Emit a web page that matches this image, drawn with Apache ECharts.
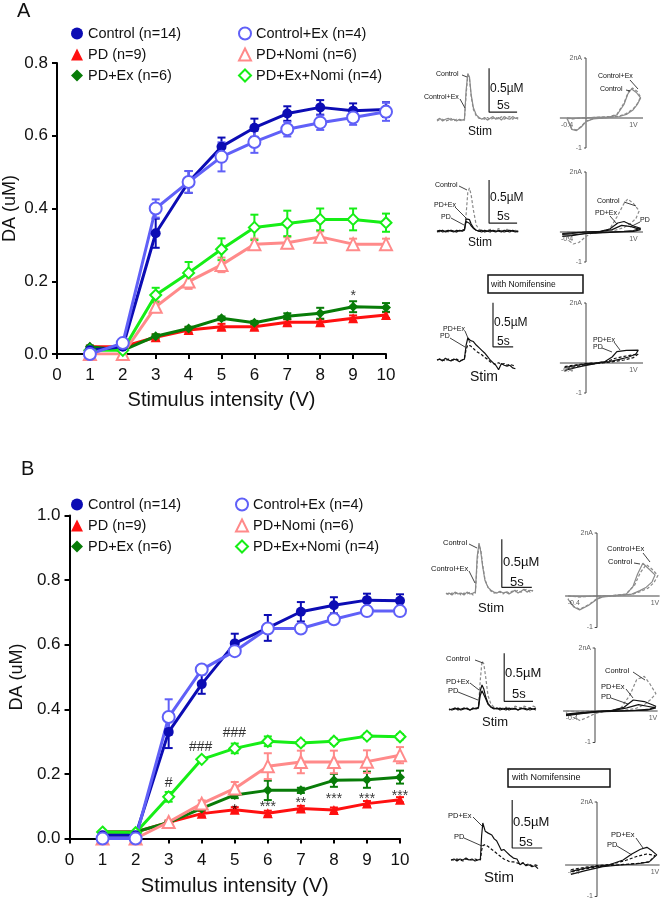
<!DOCTYPE html>
<html><head><meta charset="utf-8">
<script src="https://cdn.jsdelivr.net/npm/echarts@6/dist/echarts.min.js"></script>
<style>html,body{margin:0;padding:0;background:#fff}#c{width:660px;height:900px}</style>
</head><body><div id="c"></div>
<script>
// ---------- main data ----------
const volts = [1,2,3,4,5,6,7,8,9,10];
// Panel A
const aControl      = [0.01,0.02,0.332,0.473,0.570,0.622,0.661,0.678,0.669,0.672];
const aControlErr   = [0.005,0.005,0.04,0.03,0.025,0.025,0.02,0.02,0.02,0.02];
const aControlEx    = [0.0,0.03,0.40,0.473,0.542,0.583,0.618,0.636,0.650,0.666];
const aControlExErr = [0.005,0.005,0.025,0.03,0.04,0.03,0.02,0.02,0.02,0.025];
const aPD           = [0.02,0.02,0.046,0.066,0.075,0.075,0.087,0.087,0.098,0.107];
const aPDErr        = [0.003,0.003,0.008,0.008,0.008,0.008,0.008,0.008,0.008,0.008];
const aPDEx         = [0.02,0.01,0.049,0.07,0.098,0.086,0.104,0.112,0.13,0.128];
const aPDExErr      = [0.003,0.003,0.005,0.005,0.005,0.005,0.008,0.015,0.015,0.012];
const aPDNomi       = [0.0,0.0,0.13,0.199,0.245,0.302,0.306,0.322,0.302,0.302];
const aPDNomiErr    = [0.003,0.003,0.015,0.02,0.02,0.015,0.015,0.015,0.015,0.015];
const aPDExNomi     = [0.01,0.01,0.162,0.223,0.288,0.348,0.359,0.370,0.370,0.361];
const aPDExNomiErr  = [0.003,0.003,0.02,0.03,0.03,0.035,0.035,0.03,0.03,0.025];
const annotAx = [9], annotAy = [0.158], annotAt = ['*'];
// Panel B
const bControl      = [0.01,0.01,0.33,0.478,0.604,0.652,0.702,0.722,0.738,0.736];
const bControlErr   = [0.005,0.005,0.05,0.03,0.03,0.04,0.03,0.025,0.02,0.02];
const bControlEx    = [0.0,0.0,0.376,0.523,0.58,0.65,0.65,0.679,0.704,0.704];
const bControlExErr = [0.003,0.003,0.055,0.01,0.01,0.01,0.01,0.01,0.01,0.01];
const bPD           = [0.02,0.02,0.05,0.077,0.089,0.078,0.093,0.088,0.108,0.12];
const bPDErr        = [0.003,0.003,0.005,0.008,0.008,0.008,0.008,0.008,0.008,0.008];
const bPDEx         = [0.02,0.02,0.05,0.093,0.135,0.149,0.149,0.18,0.182,0.19];
const bPDExErr      = [0.003,0.003,0.005,0.005,0.01,0.03,0.008,0.02,0.025,0.02];
const bPDNomi       = [0.0,0.0,0.051,0.108,0.155,0.224,0.237,0.237,0.238,0.258];
const bPDNomiErr    = [0.003,0.003,0.005,0.01,0.02,0.04,0.035,0.035,0.035,0.025];
const bPDExNomi     = [0.02,0.018,0.129,0.245,0.279,0.301,0.296,0.301,0.317,0.315];
const bPDExNomiErr  = [0.003,0.003,0.015,0.005,0.015,0.015,0.008,0.008,0.008,0.008];
const annotBx = [3,3.97,4.99,5,6,7,8,9,10];
const annotBy = [0.172,0.283,0.325,0.088,0.097,0.108,0.122,0.122,0.132];
const annotBt = ['#','###','###','*','***','**','***','***','***'];

// ---------- inset data (time s, DA uM) ----------
const tRow = [0,0.5,1,1.5,2,2.5,3,3.5,4,4.5,4.9,5.2,5.5,5.8,6.1,6.5,7,7.5,8,8.5,9,9.5,10,10.5,11,11.5,12,12.5,13,13.5,14,14.5];
const a1Control   = [0.01,0.03,0.0,0.02,0.03,0.01,0.02,0.0,0.02,0.01,0.02,0.35,0.54,0.50,0.30,0.15,0.07,0.04,0.02,0.04,0.01,0.03,0.05,0.02,0.04,0.01,0.05,0.03,0.02,0.05,0.03,0.04];
const a1ControlEx = [0.0,0.02,0.02,0.0,0.01,0.03,0.0,0.02,0.01,0.0,0.01,0.30,0.52,0.48,0.28,0.13,0.06,0.03,0.03,0.02,0.04,0.02,0.03,0.04,0.02,0.05,0.02,0.04,0.05,0.02,0.04,0.02];
const a2Control   = [0.01,0.0,0.02,0.01,0.0,0.02,0.01,0.0,0.02,0.01,0.02,0.2,0.45,0.5,0.42,0.25,0.08,0.03,0.02,0.01,0.02,0.03,0.01,0.02,0.04,0.02,0.01,0.03,0.02,0.01,0.02,0.01];
const a2PD        = [0.01,0.02,0.0,0.01,0.02,0.01,0.0,0.02,0.01,0.02,0.03,0.12,0.13,0.10,0.07,0.04,0.02,0.01,0.02,0.0,0.01,0.02,0.01,0.0,0.02,0.01,0.0,0.01,0.02,0.01,0.0,0.01];
const a2PDEx      = [0.0,0.01,0.02,0.0,0.01,0.02,0.01,0.0,0.02,0.01,0.02,0.15,0.17,0.14,0.09,0.05,0.02,0.01,0.0,0.02,0.01,0.0,0.02,0.01,0.01,0.0,0.02,0.01,0.0,0.02,0.01,0.0];
const tA3 = [0,0.5,1,1.5,2,2.5,3,3.5,4,4.5,4.9,5.2,5.5,6,6.5,7,7.5,8,8.5,9,9.5,10,10.5,11,11.5,12,12.5,13,13.5,14];
const a3PDEx = [0.0,0.01,-0.01,0.02,0.0,-0.01,0.01,0.0,-0.02,0.0,0.01,0.17,0.25,0.22,0.21,0.17,0.14,0.11,0.08,0.04,0.0,-0.03,-0.06,-0.11,-0.04,-0.06,-0.07,-0.06,-0.09,-0.1];
const a3PD   = [0.0,0.01,0.0,-0.01,0.01,0.0,0.0,0.01,-0.01,0.0,0.02,0.12,0.17,0.16,0.13,0.1,0.08,0.06,0.03,0.01,-0.02,-0.04,-0.05,-0.03,-0.05,-0.04,-0.06,-0.05,-0.06,-0.07];
const b1Control   = [0.01,0.02,0.0,0.03,0.01,0.02,0.0,0.03,0.01,0.02,0.03,0.4,0.54,0.45,0.3,0.15,0.08,0.05,0.03,0.02,0.04,0.02,0.03,0.01,0.03,0.05,0.02,0.04,0.06,0.03,0.05,0.04];
const b1ControlEx = [0.02,0.0,0.02,0.01,0.03,0.0,0.02,0.01,0.03,0.0,0.02,0.35,0.52,0.47,0.32,0.16,0.08,0.04,0.02,0.03,0.03,0.01,0.04,0.02,0.04,0.03,0.05,0.03,0.05,0.06,0.03,0.05];
const b2Control   = [0.01,0.0,0.02,0.01,0.0,0.02,0.01,0.0,0.02,0.01,0.02,0.3,0.51,0.48,0.35,0.15,0.06,0.03,0.02,0.01,0.02,0.03,0.01,0.02,0.04,0.03,0.02,0.04,0.03,0.02,0.04,0.03];
const b2PDEx      = [0.0,0.01,0.02,0.0,0.01,0.02,0.01,0.0,0.02,0.01,0.03,0.2,0.26,0.22,0.14,0.07,0.03,0.02,0.01,0.02,0.01,0.0,0.02,0.01,0.01,0.0,0.02,0.01,0.0,0.02,0.01,0.0];
const b2PD        = [0.01,0.0,0.01,0.02,0.0,0.01,0.02,0.0,0.01,0.02,0.02,0.15,0.2,0.18,0.12,0.06,0.03,0.01,0.02,0.0,0.01,0.02,0.0,0.01,0.02,0.0,0.01,0.02,0.01,0.0,0.01,0.02];
const tB3 = [0,0.5,1,1.5,2,2.5,3,3.5,4,4.5,4.9,5.1,5.3,5.7,6.2,6.8,7.2,7.6,8,8.4,8.8,9.3,9.8,10.4,11,11.5,12,12.5,13,13.5,14,14.5];
const b3PDEx = [0.0,0.01,-0.01,0.01,0.0,0.02,0.0,0.01,-0.01,0.0,0.01,0.25,0.385,0.3,0.28,0.26,0.22,0.2,0.15,0.1,0.11,0.08,0.05,0.02,0.01,-0.05,-0.03,-0.06,-0.05,-0.07,-0.06,-0.09];
const b3PD   = [0.0,0.0,0.01,0.0,-0.01,0.01,0.0,0.0,0.01,0.0,0.0,0.1,0.15,0.16,0.14,0.11,0.09,0.07,0.05,0.03,0.01,0.0,-0.02,-0.02,-0.03,-0.04,-0.03,-0.05,-0.04,-0.06,-0.05,-0.06];
// scale bars [s, uM]
const sbA1 = [[9.3,0.6],[9.3,0.1],[14.3,0.1]];
const sbA2 = [[9.3,0.59],[9.3,0.1],[14.3,0.1]];
const sbA3 = [[10,0.65],[10,0.15],[13.6,0.15]];
const sbB1 = [[9.3,0.58],[9.3,0.08],[14.3,0.08]];
const sbB2 = [[9.2,0.59],[9.2,0.09],[14,0.09]];
const sbB3 = [[10.2,0.625],[10.2,0.125],[15.2,0.125]];
// cyclic voltammograms [V, nA]
const cvA1Control   = [[-0.4,0],[-0.3,-0.02],[-0.1,0],[0.2,0.02],[0.5,0.04],[0.65,0.1],[0.8,0.45],[0.88,0.8],[0.96,0.97],[1.06,0.85],[1.15,0.67],[1.08,0.45],[0.99,0.27],[0.85,0.12],[0.7,0.05],[0.4,0.0],[0.15,-0.03],[0.0,-0.12],[-0.1,-0.3],[-0.2,-0.42],[-0.3,-0.38],[-0.4,0]];
const cvA1ControlEx = [[-0.4,0],[-0.3,-0.03],[-0.1,0],[0.2,0.02],[0.5,0.05],[0.65,0.12],[0.8,0.5],[0.9,0.9],[0.98,1.0],[1.08,0.88],[1.15,0.7],[1.08,0.48],[0.99,0.3],[0.85,0.15],[0.7,0.06],[0.4,0.01],[0.15,-0.02],[0.0,-0.1],[-0.1,-0.28],[-0.2,-0.4],[-0.3,-0.36],[-0.4,-0.02]];
const cvA2Control   = [[-0.4,0],[-0.3,-0.02],[0,0],[0.3,0.02],[0.5,0.1],[0.65,0.5],[0.8,0.95],[0.88,1.1],[1.0,0.95],[1.12,0.7],[1.05,0.45],[0.95,0.3],[0.8,0.15],[0.6,0.05],[0.3,0],[0.1,-0.05],[0,-0.15],[-0.15,-0.35],[-0.27,-0.4],[-0.35,-0.3],[-0.4,-0.05]];
const cvA2PDEx      = [[-0.5,-0.05],[-0.3,-0.03],[0,0],[0.3,0.02],[0.5,0.1],[0.67,0.3],[0.8,0.35],[1.0,0.2],[1.15,0.12],[1.0,0.05],[0.8,0.02],[0.5,0.0],[0.2,-0.03],[0,-0.05],[-0.3,-0.1],[-0.5,-0.1]];
const cvA2PD        = [[-0.5,-0.08],[-0.3,-0.05],[0,0],[0.3,0.01],[0.55,0.08],[0.75,0.22],[0.95,0.18],[1.15,0.08],[1.0,0.02],[0.7,0.0],[0.4,-0.02],[0,-0.05],[-0.3,-0.12],[-0.5,-0.15]];
const cvA3PDEx      = [[-0.45,-0.15],[-0.2,-0.08],[0,-0.03],[0.2,0.0],[0.4,0.05],[0.55,0.2],[0.65,0.38],[0.85,0.42],[1.1,0.43],[1.05,0.3],[0.9,0.2],[0.7,0.12],[0.5,0.05],[0.2,-0.02],[0,-0.08],[-0.2,-0.15],[-0.45,-0.25]];
const cvA3PD        = [[-0.45,-0.12],[-0.2,-0.06],[0,-0.02],[0.2,0.0],[0.45,0.05],[0.6,0.15],[0.8,0.22],[1.1,0.3],[1.0,0.18],[0.8,0.1],[0.5,0.03],[0.2,-0.02],[0,-0.06],[-0.2,-0.12],[-0.45,-0.2]];
const cvB1Control   = [[-0.5,0],[-0.3,-0.02],[0,0],[0.3,0.02],[0.5,0.05],[0.62,0.3],[0.7,0.7],[0.79,1.04],[0.9,0.85],[1.0,0.67],[0.95,0.45],[0.85,0.28],[0.74,0.17],[0.6,0.06],[0.3,0.0],[0.1,-0.03],[0,-0.1],[-0.15,-0.3],[-0.3,-0.44],[-0.4,-0.35],[-0.5,-0.1]];
const cvB1ControlEx = [[-0.5,0],[-0.3,-0.03],[0,0],[0.3,0.02],[0.5,0.06],[0.65,0.35],[0.75,0.75],[0.85,1.0],[0.95,0.85],[1.05,0.65],[0.98,0.42],[0.88,0.25],[0.75,0.14],[0.6,0.05],[0.3,0.0],[0.1,-0.02],[0,-0.08],[-0.15,-0.28],[-0.3,-0.42],[-0.4,-0.33],[-0.5,-0.08]];
const cvB2Control   = [[-0.5,0],[-0.3,-0.02],[0,0],[0.3,0.02],[0.45,0.1],[0.6,0.5],[0.72,1.0],[0.85,1.1],[0.95,0.85],[1.05,0.55],[0.95,0.35],[0.85,0.2],[0.7,0.08],[0.5,0.02],[0.2,0.0],[0,-0.08],[-0.15,-0.22],[-0.26,-0.3],[-0.38,-0.2],[-0.5,-0.05]];
const cvB2PDEx      = [[-0.5,-0.12],[-0.3,-0.08],[0,-0.02],[0.3,0.02],[0.5,0.12],[0.66,0.35],[0.85,0.3],[1.05,0.15],[0.95,0.06],[0.7,0.02],[0.4,0.0],[0.1,-0.02],[-0.2,-0.08],[-0.5,-0.15]];
const cvB2PD        = [[-0.5,-0.1],[-0.3,-0.06],[0,-0.02],[0.3,0.01],[0.55,0.1],[0.75,0.2],[0.9,0.15],[1.05,0.1],[0.9,0.03],[0.6,0.01],[0.3,-0.01],[0,-0.03],[-0.25,-0.08],[-0.5,-0.12]];
const cvB3PDEx      = [[-0.45,-0.2],[-0.2,-0.1],[0,-0.04],[0.2,0.0],[0.45,0.16],[0.6,0.35],[0.75,0.5],[0.86,0.56],[0.95,0.45],[1.03,0.32],[0.9,0.1],[0.7,0.04],[0.4,0.0],[0.1,-0.05],[-0.2,-0.18],[-0.45,-0.3]];
const cvB3PD        = [[-0.45,-0.15],[-0.2,-0.07],[0,-0.02],[0.25,0.02],[0.5,0.15],[0.7,0.28],[0.86,0.35],[1.0,0.3],[1.03,0.25],[0.9,0.1],[0.7,0.05],[0.4,0.01],[0.1,-0.03],[-0.2,-0.12],[-0.45,-0.22]];
// CV axis tick labels
const cvLabelValues = [[0,2],[0,-1],[-0.4,0],[1,0]];
const cvLabelTexts  = ['2nA','-1','-0.4','1V'];

// ---------- styling ----------
const FONT = "'Liberation Sans', Arial, sans-serif";
const C = {control:'#0c0cb4', controlEx:'#6060f8', pd:'#ff1010', pdEx:'#087c08', pdNomi:'#ff8a8a', pdExNomi:'#16ee16'};
const NAMES = {control:'Control (n=14)', controlEx:'Control+Ex (n=4)', pd:'PD (n=9)', pdEx:'PD+Ex (n=6)', pdNomi:'PD+Nomi (n=6)', pdExNomi:'PD+Ex+Nomi (n=4)'};
const SYM = {control:['circle',10,true], controlEx:['circle',12,false], pd:['triangle',10,true], pdEx:['diamond',10,true], pdNomi:['triangle',12,false], pdExNomi:['diamond',11,false]};

const grids = [], xAxes = [], yAxes = [], series = [];

function mainAxes(grid, ymax, nameGapX) {
  grids.push(grid);
  xAxes.push({type:'value', gridIndex:grids.length-1, min:0, max:10, interval:1,
    name:'Stimulus intensity (V)', nameLocation:'middle', nameGap:nameGapX,
    nameTextStyle:{fontSize:20, fontFamily:FONT, color:'#111'},
    axisLine:{lineStyle:{color:'#000', width:2}}, axisTick:{length:5, lineStyle:{width:2, color:'#000'}},
    splitLine:{show:false}, axisLabel:{fontSize:17, fontFamily:FONT, color:'#111', margin:13}});
  yAxes.push({type:'value', gridIndex:grids.length-1, min:0, max:ymax, interval:0.2,
    name:'DA (uM)', nameLocation:'middle', nameGap:38,
    nameTextStyle:{fontSize:18, fontFamily:FONT, color:'#111'},
    axisLine:{show:true, lineStyle:{color:'#000', width:2}}, axisTick:{show:true, length:5, lineStyle:{width:2, color:'#000'}},
    splitLine:{show:false}, axisLabel:{fontSize:17, fontFamily:FONT, color:'#111', margin:9, formatter:v=>v.toFixed(1)}});
  return grids.length-1;
}
function errSeries(ax, ys, errs, color) {
  return {type:'custom', xAxisIndex:ax, yAxisIndex:ax, silent:true, z:2,
    data: volts.map((x,i)=>[x, ys[i], errs[i]]),
    renderItem:(p, api)=>{
      const x=api.value(0), y=api.value(1), e=api.value(2);
      const a=api.coord([x,y+e]), b=api.coord([x,y-e]), w=4;
      const st={stroke:color, lineWidth:2};
      return {type:'group', children:[
        {type:'line', shape:{x1:a[0],y1:a[1],x2:b[0],y2:b[1]}, style:st},
        {type:'line', shape:{x1:a[0]-w,y1:a[1],x2:a[0]+w,y2:a[1]}, style:st},
        {type:'line', shape:{x1:b[0]-w,y1:b[1],x2:b[0]+w,y2:b[1]}, style:st}]};
    }};
}
function lineSeries(ax, key, ys) {
  const [sym, size, filled] = SYM[key];
  return {type:'line', name:NAMES[key], xAxisIndex:ax, yAxisIndex:ax, z:3,
    data: volts.map((x,i)=>[x, ys[i]]), symbol:sym, symbolSize:size, showAllSymbol:true,
    lineStyle:{color:C[key], width:3},
    itemStyle: filled ? {color:C[key], borderWidth:0} : {color:'#fff', borderColor:C[key], borderWidth:2},
    emphasis:{disabled:true}};
}
function addGroup(ax, key, ys, errs) { series.push(errSeries(ax, ys, errs, C[key])); series.push(lineSeries(ax, key, ys)); }
function annot(ax, xs, ys, ts) {
  series.push({type:'scatter', xAxisIndex:ax, yAxisIndex:ax, symbolSize:0, silent:true, z:5,
    data: xs.map((x,i)=>({value:[x, ys[i]], t:ts[i]})),
    label:{show:true, position:'inside', formatter:p=>p.data.t, fontSize:14, fontFamily:FONT, color:'#000'}});
}

// Panel A main
const axA = mainAxes({left:57, top:63, width:329, height:291}, 0.8, 36);
addGroup(axA,'pd',aPD,aPDErr); addGroup(axA,'pdEx',aPDEx,aPDExErr);
addGroup(axA,'pdNomi',aPDNomi,aPDNomiErr); addGroup(axA,'pdExNomi',aPDExNomi,aPDExNomiErr);
addGroup(axA,'control',aControl,aControlErr); addGroup(axA,'controlEx',aControlEx,aControlExErr);
annot(axA, annotAx, annotAy, annotAt);
// Panel B main
const axB = mainAxes({left:57, top:515.5, width:343, height:323}, 1.0, 38);
addGroup(axB,'pd',bPD,bPDErr); addGroup(axB,'pdEx',bPDEx,bPDExErr);
addGroup(axB,'pdNomi',bPDNomi,bPDNomiErr); addGroup(axB,'pdExNomi',bPDExNomi,bPDExNomiErr);
addGroup(axB,'control',bControl,bControlErr); addGroup(axB,'controlEx',bControlEx,bControlExErr);
annot(axB, annotBx, annotBy, annotBt);

// ---------- insets ----------
function plainLine(g, data, color, width, dashed) {
  return {type:'line', xAxisIndex:g, yAxisIndex:g, showSymbol:false, silent:true, clip:false,
    data, lineStyle:{color, width:width||1.2, type:dashed?[3,2]:'solid'}};
}
function traceInset(stimX, baseY, pps, ppu, lines, bar) {
  grids.push({left:stimX-5*pps, top:baseY-0.7*ppu, width:16*pps, height:0.9*ppu});
  const g = grids.length-1;
  xAxes.push({type:'value', gridIndex:g, min:0, max:16, show:false});
  yAxes.push({type:'value', gridIndex:g, min:-0.2, max:0.7, show:false});
  lines.forEach(l=>series.push(plainLine(g, l.t.map((t,i)=>[t,l.y[i]]), l.c, 1.2, l.d)));
  series.push(plainLine(g, bar, '#222', 1.2, false));
}
function cvInset(zeroX, zeroY, ppv, ppn, xmin, xmax, lines) {
  grids.push({left:zeroX+xmin*ppv, top:zeroY-2*ppn, width:(xmax-xmin)*ppv, height:3*ppn});
  const g = grids.length-1;
  xAxes.push({type:'value', gridIndex:g, min:xmin, max:xmax, show:false});
  yAxes.push({type:'value', gridIndex:g, min:-1, max:2, show:false});
  // axes through the origin
  series.push(plainLine(g, [[xmin,0],[xmax,0]], '#444', 1, false));
  series.push(plainLine(g, [[0,-1],[0,2]], '#444', 1, false));
  series.push(plainLine(g, [[-0.04,2],[0,2]], '#444', 1, false));
  series.push(plainLine(g, [[-0.04,-1],[0,-1]], '#444', 1, false));
  lines.forEach(l=>series.push(plainLine(g, l.p, l.c, 1.2, l.d)));
  const pos = ['left','left','bottom','bottom'];
  series.push({type:'scatter', xAxisIndex:g, yAxisIndex:g, symbolSize:0, silent:true, z:5,
    data: cvLabelValues.map((v,i)=>({value:v, t:cvLabelTexts[i], label:{position:pos[i]}})),
    label:{show:true, distance:4, formatter:p=>p.data.t, fontSize:7, fontFamily:FONT, color:'#333'}});
}
const GR = '#8a8a8a', BK = '#111';
// A insets
traceInset(465,121,5.6,88,[{t:tRow,y:a1ControlEx,c:GR,d:true},{t:tRow,y:a1Control,c:GR}], sbA1);
cvInset(586,118,47.5,30,-0.55,1.2,[{p:cvA1ControlEx,c:GR,d:true},{p:cvA1Control,c:GR}]);
traceInset(465,232,5.6,88,[{t:tRow,y:a2Control,c:GR,d:true},{t:tRow,y:a2PD,c:BK},{t:tRow,y:a2PDEx,c:BK}], sbA2);
cvInset(586,232,47.5,30,-0.55,1.2,[{p:cvA2Control,c:GR,d:true},{p:cvA2PD,c:BK},{p:cvA2PDEx,c:BK}]);
traceInset(465,360,5.6,88,[{t:tA3,y:a3PD,c:BK,d:true},{t:tA3,y:a3PDEx,c:BK}], sbA3);
cvInset(586,363,47.5,30,-0.55,1.2,[{p:cvA3PD,c:BK,d:true},{p:cvA3PDEx,c:BK}]);
// B insets
traceInset(476,595,6,96,[{t:tRow,y:b1ControlEx,c:GR,d:true},{t:tRow,y:b1Control,c:GR}], sbB1);
cvInset(597,596,58,31.5,-0.55,1.08,[{p:cvB1ControlEx,c:GR,d:true},{p:cvB1Control,c:GR}]);
traceInset(479,710,6,96,[{t:tRow,y:b2Control,c:GR,d:true},{t:tRow,y:b2PD,c:BK},{t:tRow,y:b2PDEx,c:BK}], sbB2);
cvInset(595,711,58,31.5,-0.55,1.08,[{p:cvB2Control,c:GR,d:true},{p:cvB2PD,c:BK},{p:cvB2PDEx,c:BK}]);
traceInset(481,860,6,96,[{t:tB3,y:b3PD,c:BK,d:true},{t:tB3,y:b3PDEx,c:BK}], sbB3);
cvInset(597,865,58,31.5,-0.55,1.08,[{p:cvB3PD,c:BK,d:true},{p:cvB3PDEx,c:BK}]);

// ---------- graphic text / leaders ----------
function T(x,y,text,size,align){return {type:'text', x, y, silent:true, z:10,
  style:{text, fontSize:size, fontFamily:FONT, fill:'#111', align:align||'left', verticalAlign:'middle'}};}
function L(x1,y1,x2,y2,w){return {type:'line', silent:true, z:10, shape:{x1,y1,x2,y2}, style:{stroke:'#111', lineWidth:w||0.8}};}
function R(x,y,w,h){return {type:'rect', silent:true, z:10, shape:{x,y,width:w,height:h}, style:{fill:'#fff', stroke:'#111', lineWidth:1.5}};}
const g = [
  T(17,11,'A',20), T(21,469,'B',20),
  // A row1
  T(436,74,'Control',7), L(462,75,467,77), T(424,97,'Control+Ex',7), L(460,99,465,108),
  T(490,89,'0.5\u00b5M',12), T(497,106,'5s',12), T(468,132,'Stim',12),
  T(598,76,'Control+Ex',7), L(630,80,638,89), T(600,89,'Control',7), L(626,90,630,91),
  // A row2
  T(435,185,'Control',7), L(459,186,467,190), T(434,205,'PD+Ex',7), L(455,207,466,218), T(441,217,'PD',7), L(451,218,464,225),
  T(490,198,'0.5\u00b5M',12), T(497,217,'5s',12), T(468,243,'Stim',12),
  T(597,201,'Control',7), L(624,202,636,206), T(595,213,'PD+Ex',7), L(610,216,617,224), T(640,220,'PD',7), L(640,222,630,227),
  // A row3
  R(488,275,95,18), T(491,284.5,'with Nomifensine',8.5),
  T(443,329,'PD+Ex',7), L(465,331,470,343), T(440,336,'PD',7), L(450,338,465,347),
  T(494,323,'0.5\u00b5M',12), T(497,342,'5s',12), T(470,377,'Stim',14),
  T(593,340,'PD+Ex',7), L(614,342,620,350), T(593,347,'PD',7), L(602,348,612,352),
  // B row1
  T(443,543,'Control',7.5), L(469,544,477,548), T(431,569,'Control+Ex',7.5), L(469,571,475,583),
  T(503,562,'0.5\u00b5M',13), T(510,582,'5s',13), T(478,608,'Stim',13),
  T(607,549,'Control+Ex',7.5), L(643,553,650,562), T(608,562,'Control',7.5), L(634,563,640,564),
  // B row2
  T(446,659,'Control',7.5), L(475,660,483,663), T(446,682,'PD+Ex',7.5), L(470,683,479,690), T(448,691,'PD',7.5), L(458,692,478,700),
  T(505,673,'0.5\u00b5M',13), T(512,694,'5s',13), T(482,722,'Stim',13),
  T(605,671,'Control',7.5), L(633,672,645,680), T(601,687,'PD+Ex',7.5), L(626,689,633,698), T(601,697,'PD',7.5), L(611,698,628,704),
  // B row3
  R(508,769,102,18), T(512,778,'with Nomifensine',9),
  T(448,816,'PD+Ex',7.5), L(473,817,482,826), T(454,837,'PD',7.5), L(464,838,482,846),
  T(513,822,'0.5\u00b5M',13), T(519,842,'5s',13), T(484,878,'Stim',15),
  T(611,835,'PD+Ex',7.5), L(636,838,643,848), T(607,845,'PD',7.5), L(617,846,632,855)
];

// ---------- legends ----------
function legItem(key){
  const [sym,, filled] = SYM[key];
  return {name:NAMES[key], icon:sym,
    itemStyle: filled ? {color:C[key], borderWidth:0} : {color:'#fff', borderColor:C[key], borderWidth:2}};
}
function legend(left, top, keys){
  return {left, top, orient:'vertical', itemGap:6, itemWidth:12, itemHeight:12, selectedMode:false,
    textStyle:{fontSize:14.5, fontFamily:FONT, color:'#111', lineHeight:14},
    data: keys.map(legItem)};
}

const chart = echarts.init(document.getElementById('c'), null, {renderer:'canvas'});
chart.setOption({
  animation:false, backgroundColor:'#fff',
  grid:grids, xAxis:xAxes, yAxis:yAxes, series,
  legend:[legend(66,21,['control','pd','pdEx']), legend(233,21,['controlEx','pdNomi','pdExNomi']),
          legend(66,492,['control','pd','pdEx']), legend(230,492,['controlEx','pdNomi','pdExNomi'])],
  graphic:g
});
</script></body></html>
